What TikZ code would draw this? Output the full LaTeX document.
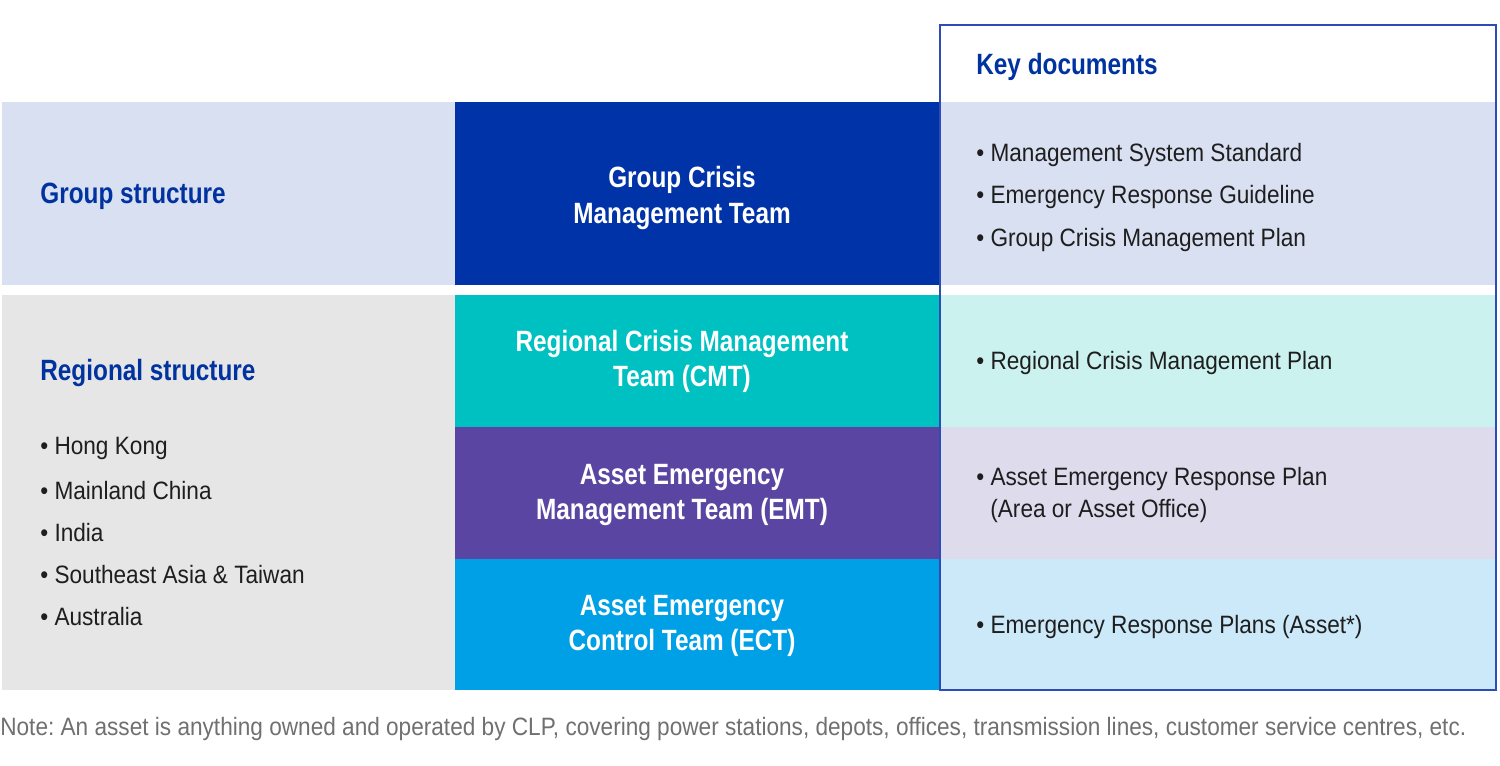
\documentclass[tikz,border=0pt]{standalone}
\usepackage{fontspec}
\setmainfont{Liberation Sans}[FakeStretch=0.9]
\newfontfamily\headfont{Liberation Sans}[FakeStretch=0.83]
\usepackage{tikz}
\definecolor{headblue}{HTML}{0033A0}
\definecolor{framecol}{HTML}{2B4DB5}
\definecolor{groupbg}{HTML}{D9E0F1}
\definecolor{regionbg}{HTML}{E6E6E6}
\definecolor{crisisblue}{HTML}{0033A8}
\definecolor{cmtteal}{HTML}{00C1C1}
\definecolor{emtpurple}{HTML}{5A46A2}
\definecolor{ectblue}{HTML}{00A0E6}
\definecolor{cmtbg}{HTML}{CCF2F0}
\definecolor{emtbg}{HTML}{DDDBEC}
\definecolor{ectbg}{HTML}{CCE9F9}
\definecolor{notegrey}{HTML}{707070}
\definecolor{bodyblack}{HTML}{1E1E1E}

\begin{document}
\begin{tikzpicture}[x=0.02cm,y=-0.02cm,
    heading/.style={anchor=west,inner sep=0pt,text=headblue,font=\headfont\fontsize{16.7}{20}\selectfont\bfseries},
    team/.style={align=center,inner sep=0pt,text=white,font=\headfont\fontsize{16.7}{20}\selectfont\bfseries},
    doc/.style={anchor=west,inner sep=0pt,align=left,text=bodyblack,font=\fontsize{14.3}{18}\selectfont}]
    \useasboundingbox (0,0) rectangle (1500,765);
    % group row
    \fill[groupbg] (2,102) rectangle (455,285);
    \fill[crisisblue] (455,102) rectangle (940,285);
    \fill[groupbg] (940,102) rectangle (1496,285);
    % regional rows
    \fill[regionbg] (2,295) rectangle (455,690);
    \fill[cmtteal] (455,295) rectangle (940,427);
    \fill[emtpurple] (455,427) rectangle (940,559);
    \fill[ectblue] (455,559) rectangle (940,690);
    \fill[cmtbg] (940,295) rectangle (1496,427);
    \fill[emtbg] (940,427) rectangle (1496,559);
    \fill[ectbg] (940,559) rectangle (1496,690);
    \draw[framecol,line width=1.2pt] (940,25) rectangle (1496,690);
    % headings
    \node[heading] (keydocs) at (976,67) {Key documents};
    \node[heading] (grouphd) at (40,196) {Group structure};
    \node[heading] (regionhd) at (40,373) {Regional structure};
    \foreach \y/\lbl [count=\i] in {448/Hong Kong,491/Mainland China,533/India,575/Southeast Asia \& Taiwan,617/Australia}
      \node[doc] (region\i) at (40,\y) {•~\lbl};
    % teams
    \node[team] (gcmt) at (682,198) {Group Crisis\\Management Team};
    \node[team] (rcmt) at (682,361) {Regional Crisis Management\\Team (CMT)};
    \node[team] (aemt) at (682,495) {Asset Emergency\\Management Team (EMT)};
    \node[team] (aect) at (682,626) {Asset Emergency\\Control Team (ECT)};
    % documents
    \foreach \y/\lbl [count=\i] in {155/Management System Standard,197/Emergency Response Guideline,240/Group Crisis Management Plan}
      \node[doc] (gdoc\i) at (976,\y) {•~\lbl};
    \node[doc] (cmtdoc) at (976,363) {•~Regional Crisis Management Plan};
    \node[doc] (emtdoc) at (976,479) {•~Asset Emergency Response Plan};
    \node[doc] (emtdocb) at (990,511) {(Area or Asset Office)};
    \node[doc] (ectdoc) at (976,627) {•~Emergency Response Plans (Asset*)};
    % note
    \node[doc,text=notegrey] (note) at (0,729) {Note:\ An asset is anything owned and operated by CLP, covering power stations, depots, offices, transmission lines, customer service centres, etc.};
\end{tikzpicture}
\end{document}
